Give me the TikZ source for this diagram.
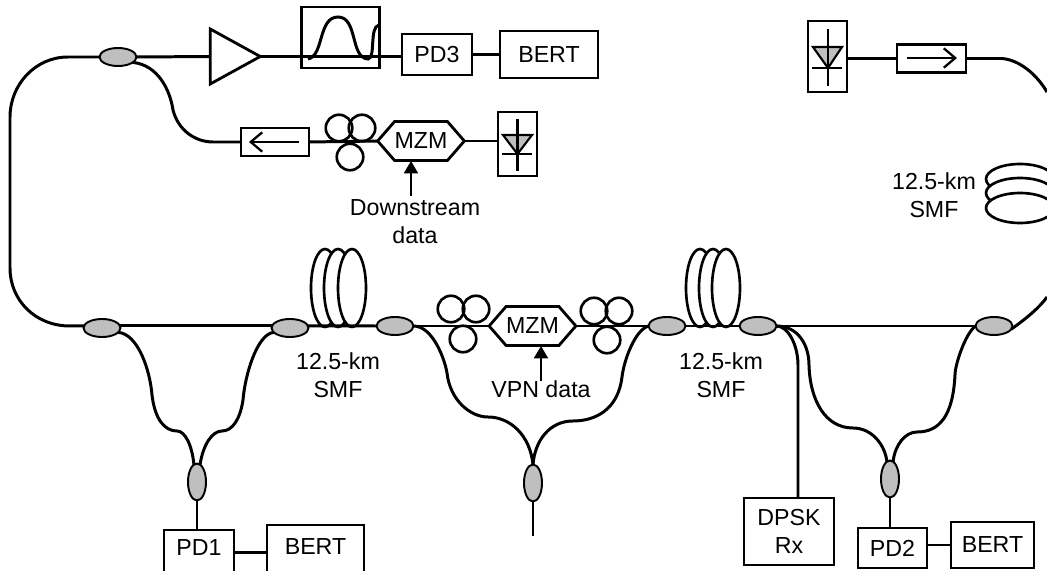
\documentclass[tikz,border=0pt]{standalone}
\usepackage{fontspec}
\setmainfont{Liberation Sans}
\usetikzlibrary{arrows.meta,shapes.geometric,shapes.symbols}
\tikzset{
  every node/.style={font=\fontsize{13.2}{16}\selectfont,inner sep=0pt,outer sep=0pt,align=center},
  fiber/.style={black,line width=1.7pt},
  thinline/.style={black,line width=0.9pt},
  coupler/.style={ellipse,draw=black,fill=black!25,line width=1.1pt,minimum width=7.4mm,minimum height=3.6mm},
  couplerv/.style={ellipse,draw=black,fill=black!25,line width=1.1pt,minimum width=3.6mm,minimum height=7.4mm},
  boxnode/.style={rectangle,draw=black,line width=1.6pt},
  polring/.style={circle,draw=black,line width=1.5pt,minimum size=5.3mm},
  spool/.style={ellipse,draw=black,fill=white,line width=1.5pt,minimum width=5.6mm,minimum height=15.6mm},
  spoolh/.style={ellipse,draw=black,fill=white,line width=1.5pt,minimum width=13.6mm,minimum height=6mm},
  mzmnode/.style={signal,signal to=west and east,signal pointer angle=98,draw=black,line width=1.6pt,minimum width=16.9mm,minimum height=7.8mm},
  isoarrow/.style={black,line width=1.3pt,-{Straight Barb[length=6.5pt,width=11pt]}},
  dataarrow/.style={thinline,-{Triangle[length=7pt,width=8pt]}}
}
\begin{document}
\begin{tikzpicture}[x=0.2mm,y=-0.2mm]
\clip[use as bounding box] (0,0) rectangle (1047,571);
% fibre spools
\node[spool] (spoola1) at (325,288) {};
\node[spool] (spoola2) at (338,288) {};
\node[spool] (spoola3) at (352,288) {};
\node[spool] (spoolb1) at (700,288) {};
\node[spool] (spoolb2) at (713,288) {};
\node[spool] (spoolb3) at (726,288) {};
\node[spoolh] (spoolc1) at (1020,179) {};
\node[spoolh] (spoolc2) at (1020,193) {};
\node[spoolh] (spoolc3) at (1020,208) {};
% couplers
\node[coupler] (cpltop) at (118,57) {};
\node[coupler] (cpla) at (102,328) {};
\node[coupler] (cplb) at (290,328) {};
\node[coupler] (cplc) at (395,326) {};
\node[coupler] (cpld) at (667,326) {};
\node[coupler] (cple) at (758,326) {};
\node[coupler] (cplf) at (994,326) {};
\node[couplerv] (cplg) at (197,482) {};
\node[couplerv] (cplh) at (533,483) {};
\node[couplerv] (cpli) at (890,479) {};
% boxes
\node[boxnode,minimum width=15.6mm,minimum height=12.2mm] (filter) at (340.5,37.5) {};
\node[boxnode,minimum width=14mm,minimum height=8.2mm] (pdthree) at (437,54.5) {PD3};
\node[boxnode,minimum width=19.6mm,minimum height=9.4mm] (bertthree) at (549,54.5) {BERT};
\node[boxnode,minimum width=14mm,minimum height=9mm,text depth=1.8mm] (pdone) at (199,552.5) {PD1};
\node[boxnode,minimum width=19.4mm,minimum height=10mm,text depth=1.2mm] (bertone) at (315.5,550) {BERT};
\node[boxnode,minimum width=13.8mm,minimum height=8mm] (pdtwo) at (892.5,548) {PD2};
\node[boxnode,minimum width=16.6mm,minimum height=9.2mm] (berttwo) at (992.5,545) {BERT};
\node[boxnode,minimum width=18mm,minimum height=13.4mm] (dpsk) at (789,531.5) {DPSK\\Rx};
\node[boxnode,minimum width=13.6mm,minimum height=5.6mm] (isoleft) at (275,142) {};
\node[boxnode,minimum width=13.8mm,minimum height=5.6mm] (isoright) at (931.5,58.5) {};
\node[boxnode,minimum width=7.8mm,minimum height=12.8mm] (diodeleft) at (517.5,144) {};
\node[boxnode,minimum width=7.8mm,minimum height=14.2mm] (dioderight) at (827.5,56.5) {};
\node[isosceles triangle,isosceles triangle stretches,draw=black,line width=1.6pt,minimum width=11mm,minimum height=10mm] (amp) at (226.5,56.5) {};
% modulators
\node[mzmnode] (mzmtop) at (421,141) {MZM};
\node[mzmnode] (mzmmid) at (532.5,326) {MZM};
% polarisation controllers
\node[polring] (pcaa) at (339,128) {};
\node[polring] (pcab) at (362,128) {};
\node[polring] (pcac) at (350,157) {};
\node[polring] (pcba) at (451,309) {};
\node[polring] (pcbb) at (476,309) {};
\node[polring] (pcbc) at (463,339) {};
\node[polring] (pcca) at (594,311) {};
\node[polring] (pccb) at (619,311) {};
\node[polring] (pccc) at (607,340) {};
% free ends
\coordinate (loopa) at (1047,92);
\coordinate (loopb) at (1047,297);
\coordinate (vpnout) at (533,536);
\coordinate (downtail) at (411,196);
\coordinate (vpntail) at (541,381);
% fibre
\draw[fiber] (cpltop.west) -- (68,57) .. controls (35,57) and (10,85) .. (10,117) -- (10,268) .. controls (10,300) and (35,326) .. (70,326) -- (cpla.173);
\draw[fiber] (cpla.7) -- (cplb.173);
\draw[fiber] (cplb.7) -- (cplc.west);
\draw[fiber] (cplc.east) -- (mzmmid.west);
\draw[fiber] (mzmmid.east) -- (cpld.west);
\draw[fiber] (cpld.east) -- (cple.west);
\draw[fiber] (cple.east) -- (cplf.west);
\draw[fiber] (cplf.-10) .. controls (1027,318) and (1040,307) .. (loopb);
\draw[fiber] (cpltop.east) -- (amp.west);
\draw[fiber] (amp.east) -- (pdthree.west |- amp.east);
\draw[fiber] (pdthree) -- (bertthree);
\draw[fiber] (cpltop.-20) .. controls (158,65) and (170,90) .. (173,110) .. controls (178,130) and (195,142) .. (213,142) -- (isoleft.west);
\draw[fiber] (isoleft.east) -- (mzmtop.west);
\draw[fiber] (mzmtop.east) -- (diodeleft.west |- mzmtop.east);
\draw[fiber] (dioderight.east |- isoright.west) -- (isoright.west);
\draw[fiber] (isoright.east) -- (1002,58.5) .. controls (1020,60) and (1037,75) .. (loopa);
\draw[fiber] (cpla.-15) .. controls (138,334) and (150,370) .. (152,395) .. controls (155,420) and (165,431) .. (177,431) .. controls (185,431) and (192,445) .. (cplg.100);
\draw[fiber] (cplb.-165) .. controls (257,334) and (245,375) .. (243,400) .. controls (240,420) and (232,431) .. (222,431) .. controls (212,431) and (203,445) .. (cplg.80);
\draw[fiber] (cplg.south) -- (cplg.south |- pdone.north);
\draw[fiber] (pdone.east) -- (pdone.east -| bertone.west);
\draw[fiber] (cplc.east) .. controls (433,326) and (445,360) .. (447,373) .. controls (450,400) and (470,417) .. (488,417) .. controls (510,417) and (530,435) .. (cplh.north);
\draw[fiber] (cpld.west) .. controls (635,330) and (624,360) .. (622,377) .. controls (618,410) and (595,421) .. (573,421) .. controls (550,421) and (535,440) .. (cplh.north);
\draw[fiber] (cplh.south) -- (vpnout);
\draw[fiber] (cple.east) .. controls (788,326) and (798,345) .. (798,365) -- (798,365 |- dpsk.north);
\draw[fiber] (cple.east) .. controls (798,326) and (809,345) .. (809,365) .. controls (810,400) and (825,428) .. (853,428) .. controls (872,428) and (885,445) .. (cpli.100);
\draw[fiber] (cplf.west) .. controls (965,334) and (955,365) .. (955,375) .. controls (953,415) and (940,432) .. (917,432) .. controls (905,432) and (895,445) .. (cpli.80);
\draw[fiber] (cpli.south) -- (cpli.south |- pdtwo.north);
\draw[fiber] (pdtwo.east |- berttwo.west) -- (berttwo.west);
% isolator arrows
\draw[isoarrow] (299,142) -- (249,142);
\draw[isoarrow] (907,58) -- (957,58);
% filter shape
\draw[fiber] (308,59) .. controls (324,56) and (318,17) .. (338,17) .. controls (358,17) and (350,58) .. (368,59) .. controls (376,58) and (369,27) .. (379,25);
% photodiodes
\draw[line width=1.2pt,fill=black!25] (503,135) -- (532,135) -- (517.5,154) -- cycle;
\draw[fiber] (502,154) -- (532,154);
\draw[fiber] (517.5,119) -- (517.5,171);
\draw[line width=1.2pt,fill=black!25] (813,47) -- (842,47) -- (828,68) -- cycle;
\draw[fiber] (812,68) -- (842,68);
\draw[fiber] (828,29) -- (828,86);
% data inputs
\draw[dataarrow] (downtail) -- (411,161);
\draw[dataarrow] (vpntail) -- (541,346);
\node (downlabel) at (415,222) {Downstream\\data};
\node (vpnlabel) at (541,389) {VPN data};
\node (smfa) at (338,375.5) {12.5-km\\SMF};
\node (smfb) at (721,375.5) {12.5-km\\SMF};
\node (smfc) at (934,195.5) {12.5-km\\SMF};
\end{tikzpicture}
\end{document}
